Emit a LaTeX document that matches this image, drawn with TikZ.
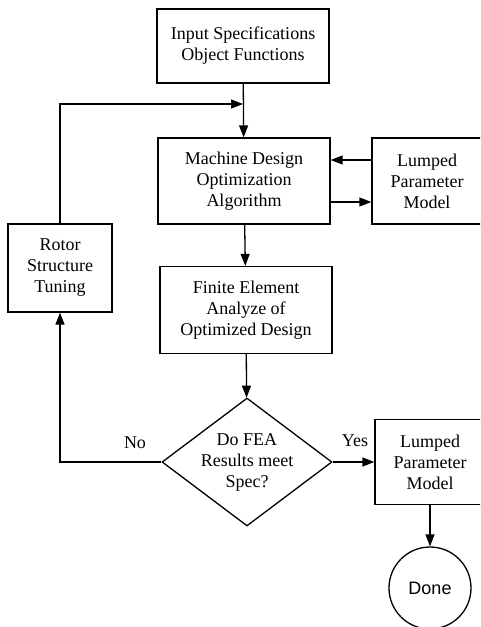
\documentclass[tikz,border=0pt]{standalone}
\usepackage{fontspec}
\setmainfont{Liberation Serif}
\newfontfamily\donefont{Liberation Sans}
\usepackage{tikz}
\usetikzlibrary{positioning}
\usetikzlibrary{shapes.geometric}
\usetikzlibrary{arrows.meta}
\tikzset{
  block/.style={draw, line width=1.3pt, align=center, inner sep=0pt,
    font=\fontsize{18}{21}\selectfont},
  decision/.style={block, diamond, aspect=1.33, inner sep=-3pt,
    minimum width=170pt, minimum height=128pt},
  terminal/.style={draw, line width=1.3pt, circle, minimum size=82pt,
    font=\donefont\fontsize{18}{21}\selectfont}
}

\begin{document}
\begin{tikzpicture}[x=1pt, y=-1pt, line width=1.3pt,
    >={Triangle[length=12pt,width=9pt]}]
    % 1. Page frame (right boxes run past the edge)
    \useasboundingbox (0,0) rectangle (480,627);
    \clip (0,0) rectangle (480,627);

    % 2. Main column of steps
    \node[block, minimum width=172pt, minimum height=74pt] (spec) at (243,46)
        {Input Specifications\\Object Functions};
    \node[block, minimum width=172pt, minimum height=86pt] (optim) at (244,181)
        {Machine Design\\Optimization\\Algorithm};
    \node[block, minimum width=172pt, minimum height=87pt] (fea) at (246,310)
        {Finite Element\\Analyze of\\Optimized Design};
    \node[decision] (check) at (247,462)
        {Do FEA\\Results meet\\Spec?};

    % 3. Side boxes
    \node[block, minimum width=110pt, minimum height=86pt] (lumpA) at (427,181)
        {Lumped\\Parameter\\Model};
    \node[block, minimum width=104pt, minimum height=88pt] (rotor) at (60,268)
        {Rotor\\Structure\\Tuning};
    \node[block, minimum width=110pt, minimum height=85pt] (lumpB) at (430,462)
        {Lumped\\Parameter\\Model};
    \node[terminal] (done) at (430,588) {Done};

    % 4. Flow arrows
    \coordinate (merge) at (spec.south |- 0,104);
    \draw[->] (spec) -- (optim);
    \draw[->] (rotor.north) |- (merge);
    \draw[->] (lumpA.west |- 0,160) -- (optim.east |- 0,160);
    \draw[->] (optim.east |- 0,202) -- (lumpA.west |- 0,202);
    \draw[->] (optim) -- (fea);
    \draw[->] (fea) -- (check);

    % 5. Decision outcomes
    \draw[->] (check.west) -| (rotor.south);
    \draw[->] (check.east) -- (lumpB.west);
    \node[font=\fontsize{18}{21}\selectfont] (no) at (135,443) {No};
    \node[font=\fontsize{18}{21}\selectfont] (yes) at (355,441) {Yes};
    \draw[->] (lumpB) -- (done);
\end{tikzpicture}
\end{document}
